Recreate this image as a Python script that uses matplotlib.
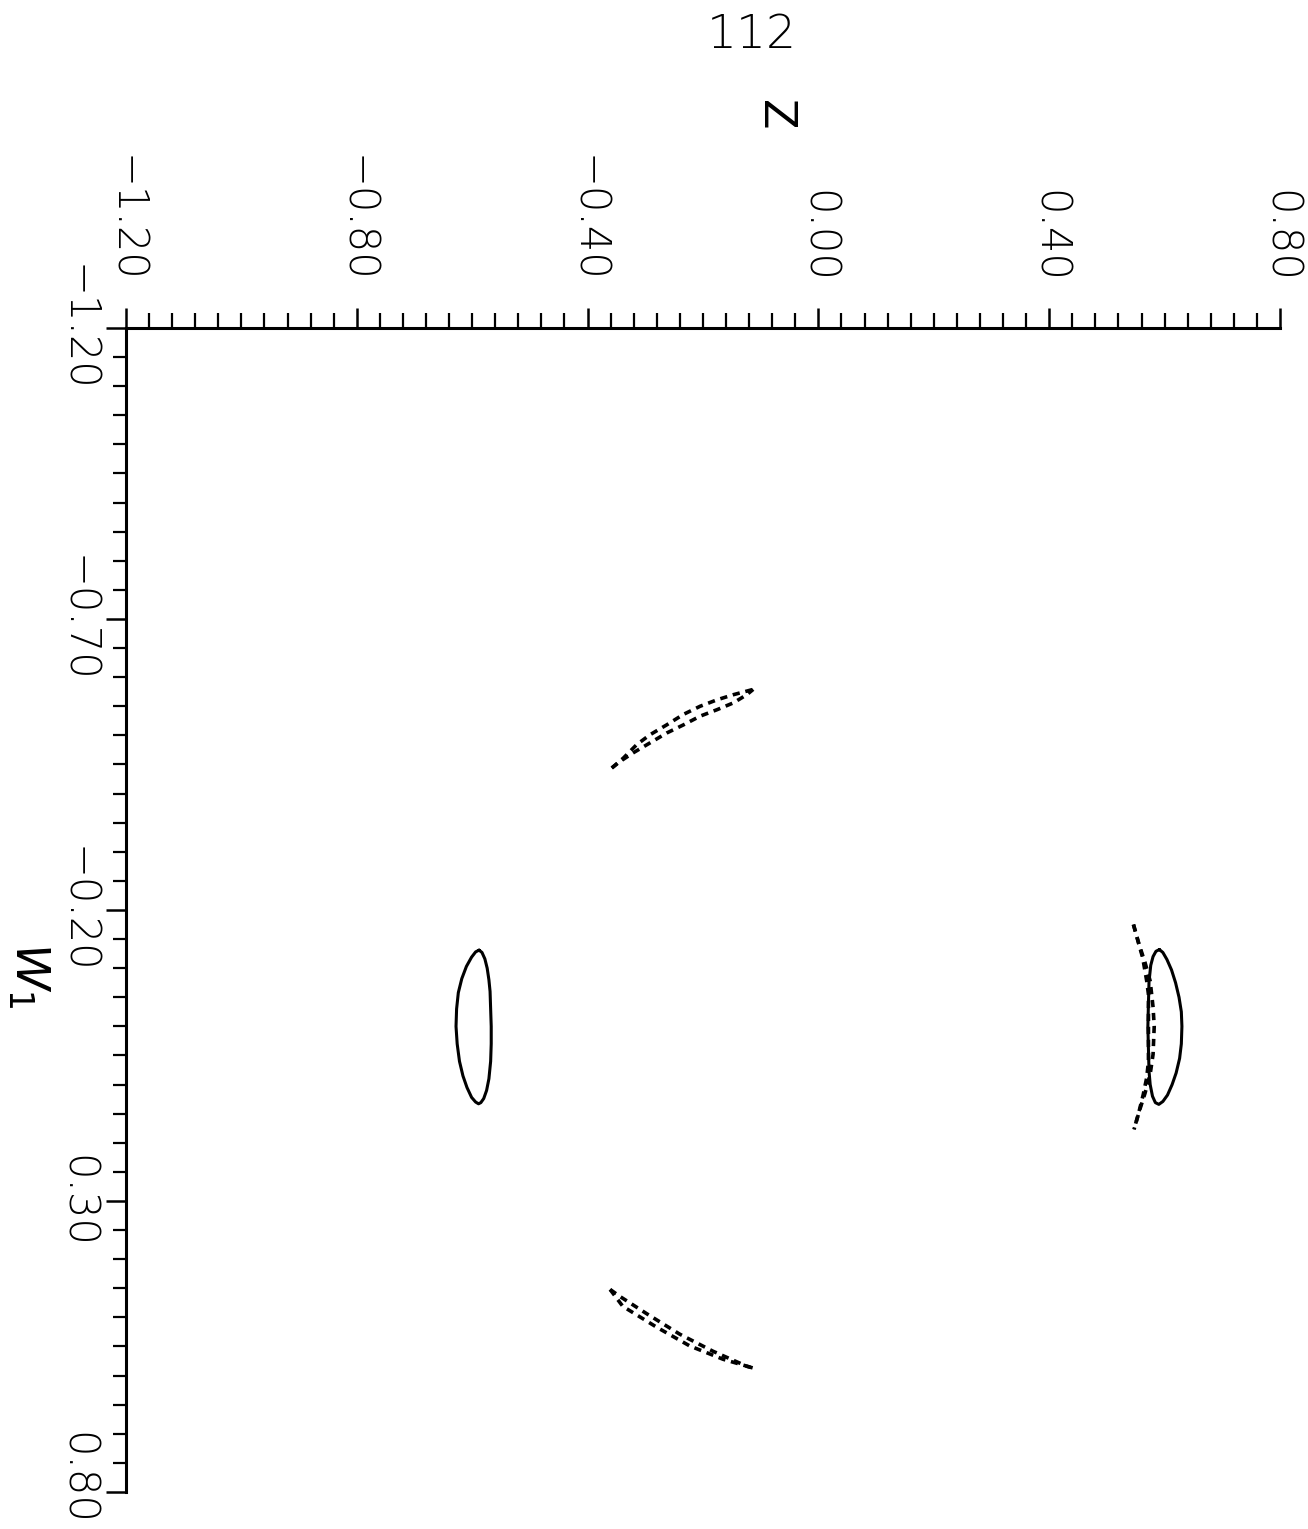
import numpy as np
import matplotlib.pyplot as plt
from matplotlib.ticker import MultipleLocator, FixedLocator

# orbit cross-sections in the (Z, W1) plane, Z across, W1 down
# closed loops (solid)
left_loop_z = [-0.588, -0.583, -0.578, -0.574, -0.571, -0.569, -0.568, -0.567, -0.567,
               -0.568, -0.571, -0.575, -0.580, -0.585, -0.589, -0.594, -0.601, -0.609,
               -0.616, -0.622, -0.626, -0.628, -0.627, -0.624, -0.618, -0.610, -0.601,
               -0.594, -0.588]
left_loop_w = [-0.131, -0.127, -0.116, -0.100, -0.080, -0.060, -0.030, 0.000, 0.030,
               0.060, 0.090, 0.110, 0.124, 0.131, 0.133, 0.130, 0.122, 0.105,
               0.085, 0.060, 0.030, 0.000, -0.030, -0.058, -0.082, -0.103, -0.119,
               -0.128, -0.131]

right_loop_z = [0.591, 0.597, 0.604, 0.612, 0.619, 0.625, 0.629, 0.630, 0.629,
                0.626, 0.620, 0.613, 0.605, 0.597, 0.590, 0.584, 0.579, 0.575,
                0.573, 0.572, 0.571, 0.572, 0.573, 0.576, 0.580, 0.585, 0.591]
right_loop_w = [-0.132, -0.127, -0.115, -0.097, -0.075, -0.050, -0.025, 0.000, 0.030,
                0.055, 0.080, 0.100, 0.118, 0.129, 0.134, 0.131, 0.120, 0.100,
                0.077, 0.040, 0.000, -0.040, -0.077, -0.105, -0.120, -0.129, -0.132]

# crescents (dashed), outer and inner arcs
right_outer_z = [0.546, 0.554, 0.562, 0.569, 0.572, 0.572, 0.572, 0.569, 0.563, 0.556, 0.547]
right_outer_w = [-0.175, -0.146, -0.118, -0.078, -0.055, 0.000, 0.060, 0.088, 0.117, 0.145, 0.177]
right_inner_z = [0.546, 0.556, 0.566, 0.575, 0.580, 0.582, 0.580, 0.575, 0.566, 0.557, 0.547]
right_inner_w = [-0.175, -0.140, -0.110, -0.078, -0.033, 0.000, 0.048, 0.082, 0.115, 0.143, 0.177]

top_outer_z = [-0.358, -0.338, -0.315, -0.292, -0.263, -0.234, -0.205, -0.176, -0.147, -0.113]
top_outer_w = [-0.444, -0.461, -0.484, -0.501, -0.518, -0.536, -0.550, -0.561, -0.570, -0.579]
top_inner_z = [-0.358, -0.344, -0.321, -0.292, -0.263, -0.234, -0.205, -0.176, -0.147, -0.124, -0.113]
top_inner_w = [-0.444, -0.455, -0.470, -0.487, -0.504, -0.518, -0.533, -0.544, -0.556, -0.570, -0.579]

bottom_inner_z = [-0.361, -0.344, -0.297, -0.240, -0.183, -0.124, -0.113]
bottom_inner_w = [0.452, 0.464, 0.494, 0.529, 0.558, 0.584, 0.587]
bottom_outer_z = [-0.361, -0.339, -0.280, -0.223, -0.165, -0.113]
bottom_outer_w = [0.452, 0.481, 0.517, 0.549, 0.572, 0.587]

z_ticks = [-1.20, -0.80, -0.40, 0.00, 0.40, 0.80]
w_ticks = [-1.20, -0.70, -0.20, 0.30, 0.80]


def fmt(v):
    s = "{:.2f}".format(abs(v))
    return ("\u2212" + s) if v < 0 else s


fig = plt.figure(figsize=(13.08, 15.29), dpi=100)
ax = fig.add_axes([0.0963, 0.0242, 0.8823, 0.7613])

solid = dict(color="black", lw=2.2, solid_joinstyle="round", solid_capstyle="round")
dashed = dict(color="black", lw=2.6, linestyle=(0, (2.0, 1.6)))

ax.plot(left_loop_z, left_loop_w, **solid)
ax.plot(right_loop_z, right_loop_w, **solid)
for zs, ws in [(right_outer_z, right_outer_w), (right_inner_z, right_inner_w),
               (top_outer_z, top_outer_w), (top_inner_z, top_inner_w),
               (bottom_inner_z, bottom_inner_w), (bottom_outer_z, bottom_outer_w)]:
    ax.plot(zs, ws, **dashed)

ax.set_xlim(-1.20, 0.80)
ax.set_ylim(0.80, -1.20)

# only the top and left frame lines
for side in ["bottom", "right"]:
    ax.spines[side].set_visible(False)
for side in ["top", "left"]:
    ax.spines[side].set_linewidth(2.2)

ax.xaxis.set_ticks_position("top")
ax.xaxis.set_major_locator(FixedLocator(z_ticks))
ax.xaxis.set_minor_locator(MultipleLocator(0.04))
ax.set_xticklabels([fmt(v) for v in z_ticks])
ax.yaxis.set_major_locator(FixedLocator(w_ticks))
ax.yaxis.set_minor_locator(MultipleLocator(0.05))
# last W1 label sits against the page edge, drawn separately below
ax.set_yticklabels([fmt(v) for v in w_ticks[:-1]] + [""])

ax.tick_params(axis="x", which="major", direction="out", length=14.4, width=1.8,
               pad=18, labelsize=30, labelrotation=-90)
ax.tick_params(axis="x", which="minor", direction="out", length=10.8, width=1.6)
ax.tick_params(axis="y", which="major", direction="out", length=14.4, width=1.8,
               pad=6, labelsize=30, labelrotation=-90)
ax.tick_params(axis="y", which="minor", direction="out", length=9.4, width=1.6)
plt.setp(ax.get_yticklabels(), va="center")
for lab in ax.get_xticklabels() + ax.get_yticklabels():
    lab.set_fontweight("light")

ax.annotate(fmt(w_ticks[-1]), xy=(0, w_ticks[-1]), xycoords=ax.get_yaxis_transform(),
            xytext=(-20.4, 10), textcoords="offset points", rotation=-90,
            fontsize=30, fontweight="light", ha="right", va="center")

fig.text(775 / 1308, 1 - 115 / 1529, "Z", rotation=-90, fontsize=32,
         ha="center", va="center")
fig.text(28 / 1308, 1 - 975 / 1529, r"$W_1$", rotation=-90, fontsize=34,
         ha="center", va="center")
fig.text(752 / 1308, 1 - 35 / 1529, "112", fontsize=34, fontweight="light",
         ha="center", va="center")

fig.savefig("out.png", dpi=100)
